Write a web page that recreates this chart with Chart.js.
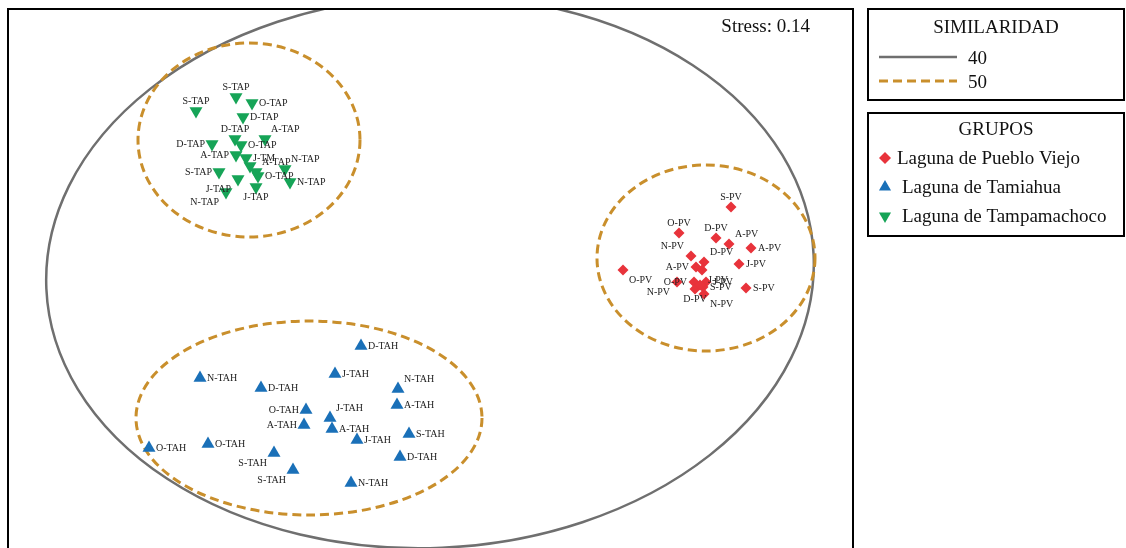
<!DOCTYPE html>
<html>
<head>
<meta charset="utf-8">
<title>NMDS - Similaridad</title>
<script src="https://cdn.jsdelivr.net/npm/chart.js@4"></script>
<style>
    html, body { margin: 0; padding: 0; background: #fff; }
    #wrap { position: relative; width: 1126px; height: 548px; }
</style>
</head>
<body>
<div id="wrap"><canvas id="nmdsChart"></canvas></div>
<script>
// NMDS coordinates (frame units)
const pvX = [731, 679, 716, 729, 751, 691, 704, 739, 696, 702, 623, 677, 694, 706, 746, 703, 695, 704, 700];
const pvY = [207, 233, 238, 244, 248, 256, 262, 264, 267, 270, 270, 282, 282, 282, 288, 287, 289, 294, 285];
const pvLabels = ['S-PV', 'O-PV', 'D-PV', 'A-PV', 'A-PV', 'N-PV', 'D-PV', 'J-PV', 'A-PV', 'J-PV', 'O-PV', 'N-PV', 'O-PV', 'J-PV', 'S-PV', 'S-PV', 'D-PV', 'N-PV', ''];
const pvSide = ['t', 't', 't', 'tr', 'r', 'tl', 'tr', 'r', 'l', 'br', 'br', 'bl', 'l', 'r', 'r', 'r', 'b', 'br', ''];

const tahX = [200, 261, 306, 304, 149, 208, 274, 293, 361, 335, 398, 397, 330, 332, 357, 409, 400, 351];
const tahY = [378, 388, 410, 425, 448, 444, 453, 470, 346, 374, 389, 405, 418, 429, 440, 434, 457, 483];
const tahLabels = ['N-TAH', 'D-TAH', 'O-TAH', 'A-TAH', 'O-TAH', 'O-TAH', 'S-TAH', 'S-TAH', 'D-TAH', 'J-TAH', 'N-TAH', 'A-TAH', 'J-TAH', 'A-TAH', 'J-TAH', 'S-TAH', 'D-TAH', 'N-TAH'];
const tahSide = ['r', 'r', 'l', 'l', 'r', 'r', 'bl', 'bl', 'r', 'r', 'tr', 'r', 'tr', 'r', 'r', 'r', 'r', 'r'];

const tapX = [236, 252, 196, 243, 235, 265, 212, 241, 236, 246, 250, 256, 285, 219, 238, 258, 290, 256, 226];
const tapY = [97, 103, 111, 117, 139, 139, 144, 145, 155, 158, 166, 172, 169, 172, 179, 176, 182, 187, 192];
const tapLabels = ['S-TAP', 'O-TAP', 'S-TAP', 'D-TAP', 'D-TAP', 'A-TAP', 'D-TAP', 'O-TAP', 'A-TAP', 'J-TM', '', 'A-TAP', 'N-TAP', 'S-TAP', 'J-TAP', 'O-TAP', 'N-TAP', 'J-TAP', 'N-TAP'];
const tapSide = ['t', 'r', 't', 'r', 't', 'tr', 'l', 'r', 'l', 'r', '', 'tr', 'tr', 'l', 'bl', 'r', 'r', 'b', 'bl'];

// similarity contours: centre x, centre y, radius x, radius y, rotation (deg)
const contour40 = [[430, 272, 384, 276, -2.5]];
const contour50 = [[249, 140, 111, 97, 0], [706, 258, 109, 93, 0], [309, 418, 173, 97, 0]];

const groupNames = ['Laguna de Pueblo Viejo', 'Laguna de Tamiahua', 'Laguna de Tampamachoco'];
const stressValue = 0.14;

const COLOR_PV = '#e8333b';
const COLOR_TAH = '#1a70b8';
const COLOR_TAP = '#16a457';
const COLOR_40 = '#6f6f6f';
const COLOR_50 = '#c98f2c';
const SERIF = '"Liberation Serif", "DejaVu Serif", serif';

function toPoints(xs, ys, labels) {
    return xs.map((x, i) => ({ x: x, y: ys[i], label: labels[i] }));
}

// Draws the contours behind the points
const contourPlugin = {
    id: 'contours',
    beforeDatasetsDraw(chart) {
        const ctx = chart.ctx;
        const area = chart.chartArea;
        const sx = chart.scales.x, sy = chart.scales.y;
        const draw = (list, color, width, dash) => {
            list.forEach(c => {
                const cx = sx.getPixelForValue(c[0]);
                const cy = sy.getPixelForValue(c[1]);
                const rx = Math.abs(sx.getPixelForValue(c[0] + c[2]) - cx);
                const ry = Math.abs(sy.getPixelForValue(c[1] + c[3]) - cy);
                ctx.save();
                ctx.beginPath();
                ctx.rect(area.left, area.top, area.right - area.left, chart.height - area.top);
                ctx.clip();
                ctx.beginPath();
                ctx.ellipse(cx, cy, rx, ry, c[4] * Math.PI / 180, 0, Math.PI * 2);
                ctx.strokeStyle = color;
                ctx.lineWidth = width;
                ctx.setLineDash(dash);
                ctx.stroke();
                ctx.restore();
            });
        };
        draw(contour40, COLOR_40, 2.5, []);
        draw(contour50, COLOR_50, 3, [9, 5]);
    }
};

// Point labels, frame, stress and the two legend boxes
const decorPlugin = {
    id: 'decor',
    afterDatasetsDraw(chart) {
        const ctx = chart.ctx;
        const area = chart.chartArea;
        const sides = [pvSide, tahSide, tapSide];

        ctx.save();
        ctx.font = '10px ' + SERIF;
        ctx.fillStyle = '#222';
        chart.data.datasets.forEach((ds, di) => {
            const meta = chart.getDatasetMeta(di);
            meta.data.forEach((el, i) => {
                const txt = ds.data[i].label;
                if (!txt) return;
                const side = sides[di][i];
                let x = el.x, y = el.y;
                ctx.textAlign = 'center';
                ctx.textBaseline = 'middle';
                if (side.includes('r')) { ctx.textAlign = 'left'; x += 7; }
                if (side.includes('l')) { ctx.textAlign = 'right'; x -= 7; }
                if (side.includes('t')) { y -= 10; }
                if (side.includes('b')) { y += 10; }
                if (side === 'tr' || side === 'br') x -= 1;
                ctx.fillText(txt, x, y);
            });
        });

        // frame (open at the bottom like the original)
        ctx.strokeStyle = '#000';
        ctx.lineWidth = 2;
        ctx.beginPath();
        ctx.moveTo(area.left, chart.height);
        ctx.lineTo(area.left, area.top);
        ctx.lineTo(area.right, area.top);
        ctx.lineTo(area.right, chart.height);
        ctx.stroke();

        ctx.font = '19px ' + SERIF;
        ctx.fillStyle = '#111';
        ctx.textAlign = 'right';
        ctx.textBaseline = 'middle';
        ctx.fillText('Stress: ' + stressValue.toFixed(2), area.right - 43, area.top + 18);

        // legend: SIMILARIDAD
        const lx = area.right + 15, lw = 1124 - lx;
        ctx.lineWidth = 2;
        ctx.strokeRect(lx, 9, lw, 91);
        ctx.textAlign = 'center';
        ctx.font = '19px ' + SERIF;
        ctx.fillText('SIMILARIDAD', lx + lw / 2, 28);
        ctx.textAlign = 'left';
        ctx.beginPath();
        ctx.strokeStyle = COLOR_40;
        ctx.lineWidth = 2.5;
        ctx.moveTo(lx + 11, 57);
        ctx.lineTo(lx + 89, 57);
        ctx.stroke();
        ctx.fillText('40', lx + 100, 59);
        ctx.beginPath();
        ctx.strokeStyle = COLOR_50;
        ctx.lineWidth = 3;
        ctx.setLineDash([9, 5]);
        ctx.moveTo(lx + 11, 81);
        ctx.lineTo(lx + 89, 81);
        ctx.stroke();
        ctx.setLineDash([]);
        ctx.fillText('50', lx + 100, 83);

        // legend: GRUPOS
        ctx.strokeStyle = '#000';
        ctx.lineWidth = 2;
        ctx.strokeRect(lx, 113, lw, 123);
        ctx.textAlign = 'center';
        ctx.fillText('GRUPOS', lx + lw / 2, 130);
        ctx.textAlign = 'left';
        const styles = [['rectRot', 0, 6, COLOR_PV], ['triangle', 0, 7, COLOR_TAH], ['triangle', 180, 7, COLOR_TAP]];
        groupNames.forEach((name, i) => {
            const yy = 158 + i * 29;
            const st = styles[i];
            ctx.fillStyle = st[3];
            Chart.helpers.drawPoint(ctx, { pointStyle: st[0], rotation: st[1], radius: st[2], borderWidth: 0 }, lx + 17, yy);
            ctx.fillStyle = '#111';
            ctx.fillText(name, lx + (i === 0 ? 29 : 34), yy + 1);
        });
        ctx.restore();
    }
};

function initNmdsChart() {
    const el = document.getElementById('nmdsChart');
    if (!el) return;

    new Chart(el.getContext('2d'), {
        type: 'scatter',
        data: {
            datasets: [{
                label: groupNames[0],
                data: toPoints(pvX, pvY, pvLabels),
                pointStyle: 'rectRot',
                pointRadius: 5.5,
                backgroundColor: COLOR_PV,
                borderColor: COLOR_PV,
                borderWidth: 0
            }, {
                label: groupNames[1],
                data: toPoints(tahX, tahY, tahLabels),
                pointStyle: 'triangle',
                pointRadius: 7.5,
                backgroundColor: COLOR_TAH,
                borderColor: COLOR_TAH,
                borderWidth: 0
            }, {
                label: groupNames[2],
                data: toPoints(tapX, tapY, tapLabels),
                pointStyle: 'triangle',
                rotation: 180,
                pointRadius: 7.5,
                backgroundColor: COLOR_TAP,
                borderColor: COLOR_TAP,
                borderWidth: 0
            }]
        },
        options: {
            responsive: true,
            maintainAspectRatio: false,
            animation: false,
            layout: {
                autoPadding: false,
                padding: { left: 8, top: 9, right: 273, bottom: 0 }
            },
            plugins: {
                legend: { display: false },
                tooltip: { enabled: false }
            },
            scales: {
                x: { type: 'linear', min: 8, max: 853, display: false },
                y: { type: 'linear', min: 9, max: 548, reverse: true, display: false }
            }
        },
        plugins: [contourPlugin, decorPlugin]
    });
}

document.addEventListener('DOMContentLoaded', initNmdsChart);
</script>
</body>
</html>
